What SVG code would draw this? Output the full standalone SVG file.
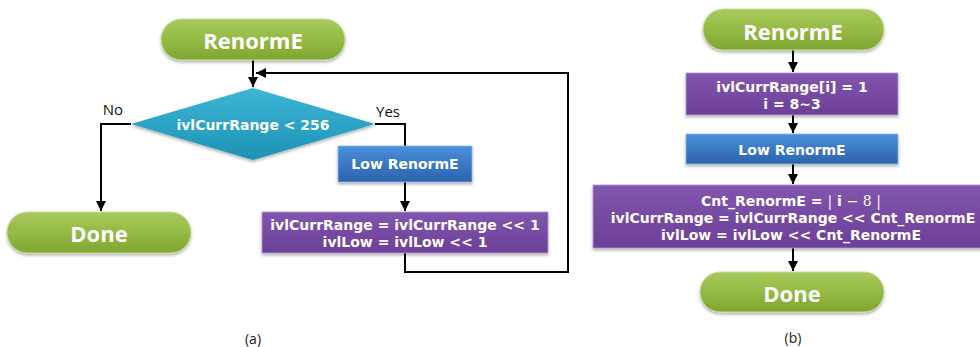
<svg xmlns="http://www.w3.org/2000/svg" width="980" height="347" viewBox="0 0 980 347">
<defs>
<linearGradient id="gGreen" x1="0" y1="0" x2="0" y2="1"><stop offset="0" stop-color="#a9c95e"/><stop offset="0.5" stop-color="#95ba44"/><stop offset="1" stop-color="#7fa532"/></linearGradient>
<linearGradient id="gTeal" x1="0" y1="0" x2="0" y2="1"><stop offset="0" stop-color="#3db5d6"/><stop offset="1" stop-color="#1d92b5"/></linearGradient>
<linearGradient id="gBlue" x1="0" y1="0" x2="0" y2="1"><stop offset="0" stop-color="#4a90dc"/><stop offset="1" stop-color="#2b62ad"/></linearGradient>
<linearGradient id="gPurple" x1="0" y1="0" x2="0" y2="1"><stop offset="0" stop-color="#8156ad"/><stop offset="1" stop-color="#6c3f98"/></linearGradient>
<filter id="sh" x="-10%" y="-20%" width="120%" height="150%"><feDropShadow dx="0" dy="2" stdDeviation="1.5" flood-color="#000" flood-opacity="0.3"/></filter>
<marker id="arr" viewBox="0 0 10 10" refX="10" refY="5" markerWidth="5" markerHeight="5" orient="auto" markerUnits="strokeWidth"><path d="M0,0 L10,5 L0,10 z" fill="#000"/></marker>
</defs>
<style>
.pill{fill:url(#gGreen);stroke:#c9dc9c;stroke-width:1;filter:url(#sh)}
.dia{fill:url(#gTeal);filter:url(#sh)}
.blue{fill:url(#gBlue);stroke:#8fb6e6;stroke-width:0.8;filter:url(#sh)}
.purp{fill:url(#gPurple);stroke:#b59bd0;stroke-width:0.8;filter:url(#sh)}
text{font-family:"Open Sans","Noto Sans","Liberation Sans",sans-serif;fill:#fff;font-weight:bold;text-anchor:middle;dominant-baseline:central}
.big{font-size:22px}
.mid{font-family:"DejaVu Sans","Liberation Sans",sans-serif;font-size:14px}
.lab{fill:#111;font-weight:normal;font-size:15px}
.cap{fill:#222;font-weight:normal;font-size:14px}
.con{fill:none;stroke:#000;stroke-width:2}
.math{font-family:"DejaVu Serif","Liberation Serif",serif;font-weight:normal}
</style>
<g id="connectors">
<path class="con" d="M253,60 V87" marker-end="url(#arr)"/>
<path class="con" d="M131,124 H101 V211" marker-end="url(#arr)"/>
<path class="con" d="M375,124 H405 V146"/>
<path class="con" d="M405,182 V211" marker-end="url(#arr)"/>
<path class="con" d="M405,253 V272 H568 V73 H256" marker-end="url(#arr)"/>
<path class="con" d="M793,50 V72" marker-end="url(#arr)"/>
<path class="con" d="M793,115 V133" marker-end="url(#arr)"/>
<path class="con" d="M793,164 V184" marker-end="url(#arr)"/>
<path class="con" d="M793,248 V271" marker-end="url(#arr)"/>
</g>
<g id="a-start"><rect class="pill" x="161" y="19" width="184" height="41" rx="20.5"/><text class="big" x="253" y="40">RenormE</text></g>
<g id="a-decision"><polygon class="dia" points="253,88 375,124 253,160 131,124"/><text class="mid" x="253" y="125">ivlCurrRange &lt; 256</text></g>
<g id="a-no"><text class="lab" x="113" y="109">No</text></g>
<g id="a-yes"><text class="lab" x="388" y="111">Yes</text></g>
<g id="a-low"><rect class="blue" x="338" y="146" width="134" height="36"/><text class="mid" x="405" y="164">Low RenormE</text></g>
<g id="a-shift"><rect class="purp" x="262" y="212" width="286" height="41"/><text class="mid" x="405" y="225">ivlCurrRange = ivlCurrRange &lt;&lt; 1</text><text class="mid" x="405" y="242">ivlLow = ivlLow &lt;&lt; 1</text></g>
<g id="a-done"><rect class="pill" x="7" y="212" width="184" height="41" rx="20.5"/><text class="big" x="99" y="233">Done</text></g>
<g id="a-caption"><text class="cap" x="253" y="338">(a)</text></g>
<g id="b-start"><rect class="pill" x="703" y="9" width="181" height="41" rx="20.5"/><text class="big" x="793" y="31">RenormE</text></g>
<g id="b-init"><rect class="purp" x="686" y="73" width="212" height="42"/><text class="mid" x="792" y="87">ivlCurrRange[i] = 1</text><text class="mid" x="792" y="104">i = 8~3</text></g>
<g id="b-low"><rect class="blue" x="686" y="134" width="212" height="30"/><text class="mid" x="792" y="150">Low RenormE</text></g>
<g id="b-shift"><rect class="purp" x="593" y="185" width="400" height="63"/><text class="mid" x="791" y="201">Cnt_RenormE = <tspan class="math">|</tspan> i <tspan class="math">− 8 |</tspan></text><text class="mid" x="793" y="218">ivlCurrRange = ivlCurrRange &lt;&lt; Cnt_RenormE</text><text class="mid" x="791" y="235">ivlLow = ivlLow &lt;&lt; Cnt_RenormE</text></g>
<g id="b-done"><rect class="pill" x="700" y="272" width="184" height="40" rx="20"/><text class="big" x="792" y="293">Done</text></g>
<g id="b-caption"><text class="cap" x="793" y="337">(b)</text></g>
</svg>
